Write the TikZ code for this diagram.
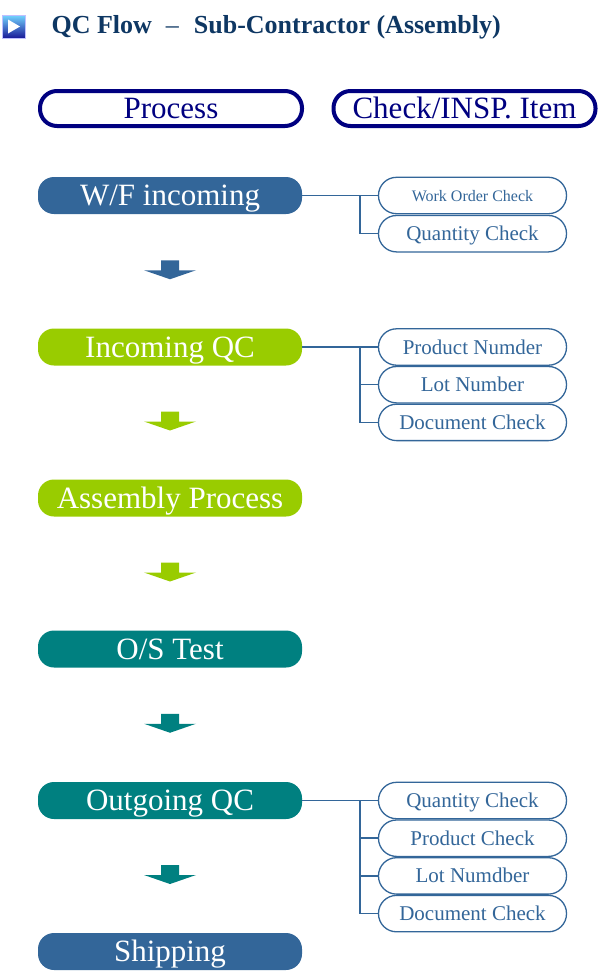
\documentclass[tikz,border=0pt]{standalone}
\usepackage{fontspec}
\setmainfont{Liberation Serif}
\usepackage{xcolor}
\usepackage{tikz}
\usetikzlibrary{calc}
\definecolor{wfblue}{RGB}{51,102,153}
\definecolor{limegreen}{RGB}{153,204,0}
\definecolor{tealgreen}{RGB}{0,128,128}
\definecolor{navyline}{RGB}{0,0,128}
\definecolor{titleblue}{RGB}{14,55,99}
\tikzstyle{header}=[draw=navyline,line width=4pt,rounded corners=17pt,minimum width=262pt,minimum height=35pt,inner sep=0pt,text=navyline,font=\fontsize{31}{34}\selectfont,text height=20.5pt,text depth=0pt]
\tikzstyle{stage}=[rounded corners=16pt,minimum width=264pt,minimum height=37pt,inner sep=0pt,text=white,font=\fontsize{31}{34}\selectfont,text height=20.5pt,text depth=0pt]
\tikzstyle{checkitem}=[draw=wfblue,line width=1.3pt,fill=white,rounded corners=18pt,minimum width=188pt,minimum height=36.4pt,inner sep=0pt,text=wfblue,font=\fontsize{21}{24}\selectfont,text height=14pt,text depth=0pt]
\tikzstyle{branch}=[draw=wfblue,line width=1.5pt]

\begin{document}
\begin{tikzpicture}[x=1pt,y=-1pt]
        \useasboundingbox (0,0) rectangle (601,972);
        % title
        \shade[top color=blue!30!cyan!55,bottom color=blue!55!black!90] (2,15) rectangle (25,38);
        \draw[blue!25,line width=1pt] (2,15) rectangle (25,38);
        \fill[white] (8,19.5) -- (8,33.5) -- (20,26.5) -- cycle;
        \node at (48,33) [anchor=base west,text=titleblue,font=\fontsize{26}{30}\selectfont\bfseries] (title) {QC Flow\hspace{14pt}{\mdseries –}\hspace{15pt}Sub-Contractor (Assembly)};

        % column heads
        \node at (171,108.5) [header] (process) {Process};
        \node at (464.5,108.5) [header] (checkinsp) {Check/INSP. Item};

        % process flow
        \node at (170,195.5) [stage,fill=wfblue] (wf) {W/F incoming};
        \node at (170,347) [stage,fill=limegreen] (inqc) {Incoming QC};
        \node at (170,498) [stage,fill=limegreen] (assy) {Assembly Process};
        \node at (170,649) [stage,fill=tealgreen] (ostest) {O/S Test};
        \node at (170,800.5) [stage,fill=tealgreen] (outqc) {Outgoing QC};
        \node at (170,951.5) [stage,fill=wfblue] (ship) {Shipping};

        \foreach \a/\b/\c in {wf/inqc/wfblue,inqc/assy/limegreen,assy/ostest/limegreen,ostest/outqc/tealgreen,outqc/ship/tealgreen}
          \fill[\c] ($(\a.south)!.5!(\b.north)$) +(-9,-11) -- +(9,-11) -- +(9,-1) -- +(26,-1) -- +(0,8) -- +(-26,-1) -- +(-9,-1) -- cycle;

        % check items
        \coordinate (wfj) at (360,195.5);
        \coordinate (inj) at (360,347);
        \coordinate (outj) at (360,800.5);
        \draw[branch] (wf.east) -- (472.5,195.5);
        \draw[branch] (wfj) |- (409,233.7);
        \draw[branch] (inqc.east) -- (472.5,347);
        \draw[branch] (inj) |- (409,384.7);
        \draw[branch] (inj) |- (409,422.4);
        \draw[branch] (outqc.east) -- (472.5,800.5);
        \draw[branch] (outj) |- (409,838.2);
        \draw[branch] (outj) |- (409,875.9);
        \draw[branch] (outj) |- (409,913.6);

        \node at (472.5,195.5) [checkitem,font=\fontsize{16}{18}\selectfont,text height=11pt] (workorder) {Work Order Check};
        \node at (472.5,233.7) [checkitem] (wfqty) {Quantity Check};
        \node at (472.5,347) [checkitem] (prodno) {Product Numder};
        \node at (472.5,384.7) [checkitem] (lotno) {Lot Number};
        \node at (472.5,422.4) [checkitem] (indoc) {Document Check};
        \node at (472.5,800.5) [checkitem] (outqty) {Quantity Check};
        \node at (472.5,838.2) [checkitem] (prodchk) {Product Check};
        \node at (472.5,875.9) [checkitem] (outlot) {Lot Numdber};
        \node at (472.5,913.6) [checkitem] (outdoc) {Document Check};
      \end{tikzpicture}
\end{document}
